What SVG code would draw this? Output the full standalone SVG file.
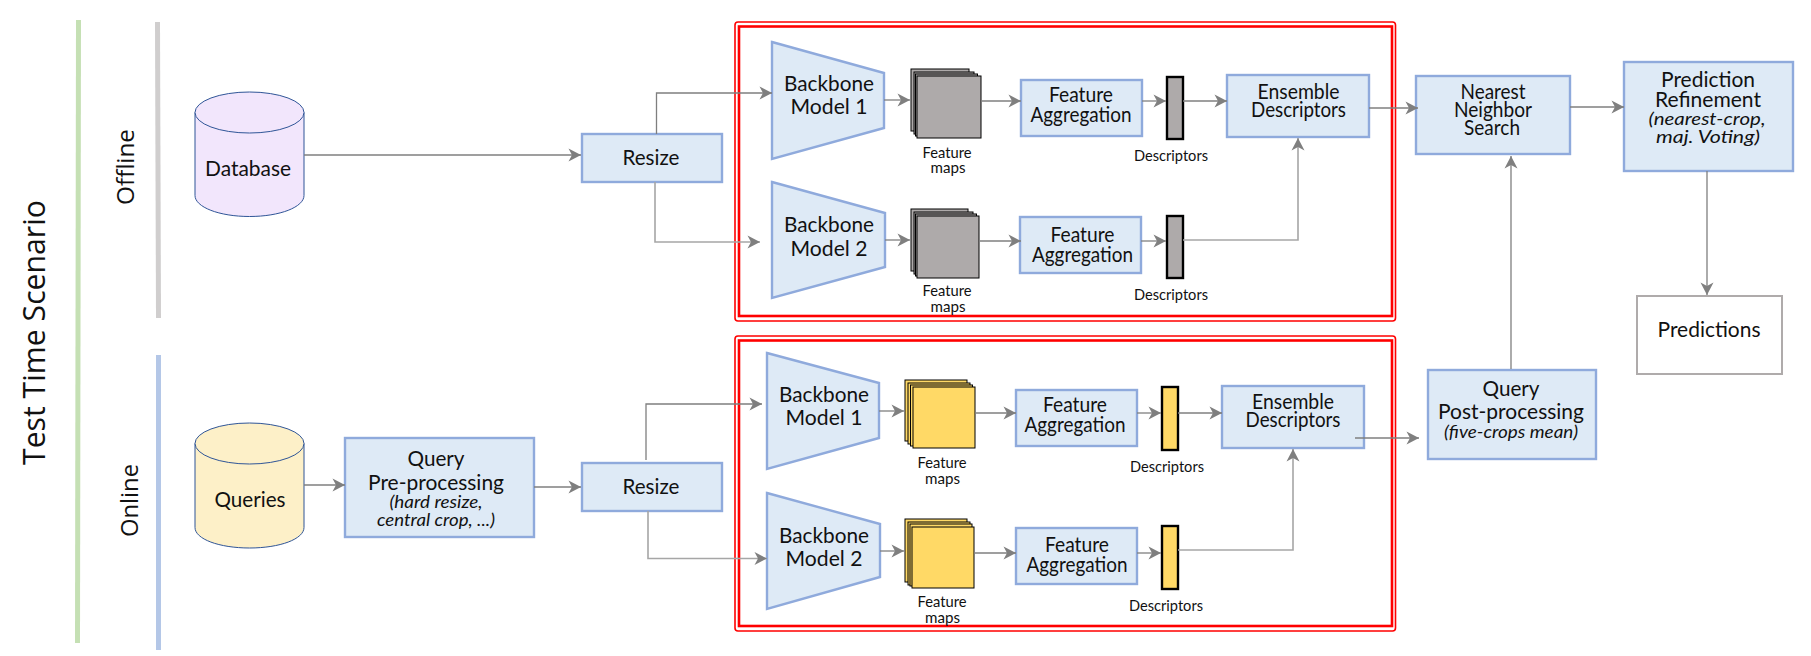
<svg xmlns="http://www.w3.org/2000/svg" width="1811" height="656" viewBox="0 0 1811 656">
<style>
text{font-family:Lato,"Open Sans",Arial,sans-serif;fill:#111;text-anchor:middle}
.t20{font-size:22px}.t13{font-size:15px}.i{font-style:italic;font-size:18px}
.seg{font-family:"Open Sans","Noto Sans",sans-serif}
.b{fill:#deeaf6;stroke:#8faadc;stroke-width:2.4}
.c{stroke:#2f5597;stroke-width:1}
.g{fill:#aeaaaa;stroke:#000;stroke-width:1}
.y{fill:#ffd966;stroke:#000;stroke-width:1}
.dg{fill:#aeaaaa;stroke:#000;stroke-width:2.4}
.dy{fill:#ffd966;stroke:#000;stroke-width:2.4}
.r{fill:none;stroke:#f00}
#connectors path{fill:none;stroke:#7f7f7f;stroke-width:1.3}
#connectors path.a{marker-end:url(#arr)}
#connectors path.l{stroke:#a6a6a6;stroke-width:1.6}
</style>
<defs>
<marker id="arr" markerUnits="userSpaceOnUse" markerWidth="14" markerHeight="14" refX="13" refY="7" orient="auto"><path d="M0.5,0.5L13,7L0.5,13.5L4,7z" fill="#7f7f7f"/></marker>
</defs>
<rect width="1811" height="656" fill="#fff"/>
<g id="bars">
<path d="M78.5,20L77.5,643" stroke="#c5e0b4" stroke-width="5" fill="none"/>
<path d="M157.5,22L158.5,318" stroke="#d0cece" stroke-width="5" fill="none"/>
<path d="M158.5,355V650" stroke="#b4c7e7" stroke-width="5" fill="none"/>
</g>
<g id="labels">
<text class="seg" transform="translate(45,332.5) rotate(-90)" font-size="31" textLength="265" lengthAdjust="spacingAndGlyphs">Test Time Scenario</text>
<text class="seg" transform="translate(133.5,167) rotate(-90)" font-size="23" textLength="76" lengthAdjust="spacingAndGlyphs">Offline</text>
<text class="seg" transform="translate(138,500.5) rotate(-90)" font-size="23" textLength="73" lengthAdjust="spacingAndGlyphs">Online</text>
</g>
<g id="redbox-offline"><rect class="r" x="735" y="22" width="660.500" height="299" rx="3" stroke-width="1.6"/><rect class="r" x="739" y="26.500" width="653" height="289.500" stroke-width="2.6"/></g>
<g id="redbox-online"><rect class="r" x="735" y="336" width="660.500" height="295" rx="3" stroke-width="1.6"/><rect class="r" x="739" y="340.500" width="653" height="285.500" stroke-width="2.6"/></g>

<g id="database"><path d="M195,112.500V195.500C195,207 219,216.500 249.500,216.500S304,207 304,195.500V112.500" fill="#f2e6fc" class="c"/><ellipse cx="249.500" cy="112.500" rx="54.500" ry="20.500" fill="#f2e6fc" class="c"/><text class="t20" x="248" y="176" textLength="86" lengthAdjust="spacingAndGlyphs">Database</text></g>
<g id="queries"><path d="M195,443.500V527.500C195,539 219,548 249.500,548S304,539 304,527.500V443.500" fill="#fdf0c8" class="c"/><ellipse cx="249.500" cy="443.500" rx="54.500" ry="20.500" fill="#fdf0c8" class="c"/><text class="t20" x="250" y="507" textLength="71" lengthAdjust="spacingAndGlyphs">Queries</text></g>
<g id="resize-offline"><rect class="b" x="582" y="134" width="140" height="48"/><text class="t20" x="651" y="165" textLength="57" lengthAdjust="spacingAndGlyphs">Resize</text></g>
<g id="resize-online"><rect class="b" x="582" y="463" width="140" height="48"/><text class="t20" x="651" y="494" textLength="57" lengthAdjust="spacingAndGlyphs">Resize</text></g>
<g id="query-pre"><rect class="b" x="345" y="438" width="189" height="99"/>
<text class="t20"><tspan x="436" y="466" textLength="57" lengthAdjust="spacingAndGlyphs">Query</tspan><tspan x="436" y="489.500" textLength="136" lengthAdjust="spacingAndGlyphs">Pre-processing</tspan></text>
<text class="i"><tspan x="436" y="508" textLength="93" lengthAdjust="spacingAndGlyphs">(hard resize,</tspan><tspan x="436" y="526" textLength="118" lengthAdjust="spacingAndGlyphs">central crop, ...)</tspan></text></g>

<g id="backbone-off-1"><path class="b" d="M772,42L884,73V128L772,159z"/><text class="t20"><tspan x="829" y="91" textLength="90" lengthAdjust="spacingAndGlyphs">Backbone</tspan><tspan x="829" y="114" textLength="77" lengthAdjust="spacingAndGlyphs">Model 1</tspan></text></g>
<g id="backbone-off-2"><path class="b" d="M772,182L885,213V267L772,298z"/><text class="t20"><tspan x="829" y="232" textLength="90" lengthAdjust="spacingAndGlyphs">Backbone</tspan><tspan x="829" y="256" textLength="77" lengthAdjust="spacingAndGlyphs">Model 2</tspan></text></g>
<g id="maps-off-1"><rect class="g" x="911" y="69" width="58" height="62"/><rect class="g" x="914" y="72" width="60" height="62"/><rect class="g" x="915.500" y="74" width="62" height="62"/><rect class="g" x="917" y="76" width="64" height="62"/><text class="t13"><tspan x="947" y="158" textLength="49" lengthAdjust="spacingAndGlyphs">Feature</tspan><tspan x="948" y="173" textLength="35" lengthAdjust="spacingAndGlyphs">maps</tspan></text></g>
<g id="maps-off-2"><rect class="g" x="911" y="209" width="57" height="62"/><rect class="g" x="914" y="212" width="59" height="62"/><rect class="g" x="915.500" y="214" width="61" height="62"/><rect class="g" x="917" y="216" width="62" height="62"/><text class="t13"><tspan x="947" y="296" textLength="49" lengthAdjust="spacingAndGlyphs">Feature</tspan><tspan x="948" y="312" textLength="35" lengthAdjust="spacingAndGlyphs">maps</tspan></text></g>
<g id="agg-off-1"><rect class="b" x="1021" y="80" width="121" height="56"/><text class="t20"><tspan x="1081" y="102" textLength="64" lengthAdjust="spacingAndGlyphs">Feature</tspan><tspan x="1081" y="122" textLength="101" lengthAdjust="spacingAndGlyphs">Aggregation</tspan></text></g>
<g id="agg-off-2"><rect class="b" x="1020" y="217" width="121" height="56"/><text class="t20"><tspan x="1082.500" y="242" textLength="64" lengthAdjust="spacingAndGlyphs">Feature</tspan><tspan x="1082.500" y="262" textLength="101" lengthAdjust="spacingAndGlyphs">Aggregation</tspan></text></g>
<g id="desc-off-1"><rect class="dg" x="1167" y="77" width="16" height="62"/><text class="t13" x="1171" y="161" textLength="74" lengthAdjust="spacingAndGlyphs">Descriptors</text></g>
<g id="desc-off-2"><rect class="dg" x="1167" y="216" width="16" height="62"/><text class="t13" x="1171" y="300" textLength="74" lengthAdjust="spacingAndGlyphs">Descriptors</text></g>
<g id="ensemble-off"><rect class="b" x="1227" y="75" width="142" height="62"/><text class="t20"><tspan x="1298.500" y="99" textLength="82" lengthAdjust="spacingAndGlyphs">Ensemble</tspan><tspan x="1298.500" y="117" textLength="95" lengthAdjust="spacingAndGlyphs">Descriptors</tspan></text></g>

<g id="backbone-on-1"><path class="b" d="M767,353L879,383V438L767,469z"/><text class="t20"><tspan x="824" y="402" textLength="90" lengthAdjust="spacingAndGlyphs">Backbone</tspan><tspan x="824" y="425" textLength="77" lengthAdjust="spacingAndGlyphs">Model 1</tspan></text></g>
<g id="backbone-on-2"><path class="b" d="M767,493L880,524V577L767,609z"/><text class="t20"><tspan x="824" y="543" textLength="90" lengthAdjust="spacingAndGlyphs">Backbone</tspan><tspan x="824" y="566" textLength="77" lengthAdjust="spacingAndGlyphs">Model 2</tspan></text></g>
<g id="maps-on-1"><rect class="y" x="905" y="380" width="62" height="61"/><rect class="y" x="908" y="383" width="62" height="61"/><rect class="y" x="910.500" y="385" width="62" height="61"/><rect class="y" x="913" y="387" width="62" height="61"/><text class="t13"><tspan x="942" y="468" textLength="49" lengthAdjust="spacingAndGlyphs">Feature</tspan><tspan x="942.500" y="484" textLength="35" lengthAdjust="spacingAndGlyphs">maps</tspan></text></g>
<g id="maps-on-2"><rect class="y" x="905" y="519" width="62" height="63"/><rect class="y" x="908" y="522" width="62" height="63"/><rect class="y" x="910" y="524" width="62" height="62"/><rect class="y" x="912" y="527" width="62" height="61"/><text class="t13"><tspan x="942" y="607" textLength="49" lengthAdjust="spacingAndGlyphs">Feature</tspan><tspan x="942.500" y="623" textLength="35" lengthAdjust="spacingAndGlyphs">maps</tspan></text></g>
<g id="agg-on-1"><rect class="b" x="1016" y="390" width="121" height="56"/><text class="t20"><tspan x="1075" y="412" textLength="64" lengthAdjust="spacingAndGlyphs">Feature</tspan><tspan x="1075" y="432" textLength="101" lengthAdjust="spacingAndGlyphs">Aggregation</tspan></text></g>
<g id="agg-on-2"><rect class="b" x="1016" y="528" width="121" height="56"/><text class="t20"><tspan x="1077" y="552" textLength="64" lengthAdjust="spacingAndGlyphs">Feature</tspan><tspan x="1077" y="572" textLength="101" lengthAdjust="spacingAndGlyphs">Aggregation</tspan></text></g>
<g id="desc-on-1"><rect class="dy" x="1162" y="387" width="16" height="63"/><text class="t13" x="1167" y="472" textLength="74" lengthAdjust="spacingAndGlyphs">Descriptors</text></g>
<g id="desc-on-2"><rect class="dy" x="1162" y="526" width="16" height="63"/><text class="t13" x="1166" y="611" textLength="74" lengthAdjust="spacingAndGlyphs">Descriptors</text></g>
<g id="ensemble-on"><rect class="b" x="1222" y="386" width="142" height="62"/><text class="t20"><tspan x="1293" y="409" textLength="82" lengthAdjust="spacingAndGlyphs">Ensemble</tspan><tspan x="1293" y="427" textLength="95" lengthAdjust="spacingAndGlyphs">Descriptors</tspan></text></g>

<g id="nn-search"><rect class="b" x="1416" y="76" width="154" height="78"/><text class="t20"><tspan x="1493" y="99" textLength="65" lengthAdjust="spacingAndGlyphs">Nearest</tspan><tspan x="1493" y="117" textLength="78" lengthAdjust="spacingAndGlyphs">Neighbor</tspan><tspan x="1492" y="135" textLength="56" lengthAdjust="spacingAndGlyphs">Search</tspan></text></g>
<g id="refinement"><rect class="b" x="1624" y="62" width="169" height="109"/><text class="t20"><tspan x="1708" y="87" textLength="94" lengthAdjust="spacingAndGlyphs">Prediction</tspan><tspan x="1708" y="107" textLength="106" lengthAdjust="spacingAndGlyphs">Refinement</tspan></text><text class="i"><tspan x="1707" y="125" textLength="117" lengthAdjust="spacingAndGlyphs">(nearest-crop,</tspan><tspan x="1708" y="143" textLength="104" lengthAdjust="spacingAndGlyphs">maj. Voting)</tspan></text></g>
<g id="predictions"><rect x="1637" y="296" width="145" height="78" fill="#fff" stroke="#afabab" stroke-width="2"/><text class="t20" x="1709" y="337" textLength="103" lengthAdjust="spacingAndGlyphs">Predictions</text></g>
<g id="query-post"><rect class="b" x="1428" y="370" width="168" height="89"/><text class="t20"><tspan x="1511" y="396" textLength="57" lengthAdjust="spacingAndGlyphs">Query</tspan><tspan x="1511" y="419" textLength="146" lengthAdjust="spacingAndGlyphs">Post-processing</tspan></text><text class="i" x="1511" y="438" textLength="134" lengthAdjust="spacingAndGlyphs">(five-crops mean)</text></g>

<g id="connectors">
<path class="a" d="M304,155H581"/>
<path class="a" d="M656.500,134V93H772"/>
<path class="a l" d="M655,182V242H760"/>
<path class="a" d="M884,100H910"/>
<path class="a" d="M885,240H910"/>
<path class="a" d="M981,101H1021"/>
<path class="a" d="M979,241H1021"/>
<path class="a" d="M1142,101H1166"/>
<path class="a" d="M1141,241H1166"/>
<path class="a" d="M1183,101H1227"/>
<path class="a l" d="M1183,240H1298V138"/>
<path class="a" d="M1369,108H1418"/>
<path class="a" d="M304,485H345"/>
<path class="a" d="M534,487H581"/>
<path class="a" d="M646,460V404H762"/>
<path class="a l" d="M648,511V558.500H767"/>
<path class="a" d="M879,411H904"/>
<path class="a" d="M880,551H904"/>
<path class="a" d="M975,413H1016"/>
<path class="a" d="M974,553H1016"/>
<path class="a" d="M1137,413H1161"/>
<path class="a" d="M1137,553H1161"/>
<path class="a" d="M1178,413H1222"/>
<path class="a l" d="M1178,550H1293V449"/>
<path class="a" d="M1355,438H1419"/>
<path class="a" d="M1511,369V156"/>
<path class="a" d="M1570,107H1624"/>
<path class="a" d="M1707,171V295"/>
</g>
</svg>
